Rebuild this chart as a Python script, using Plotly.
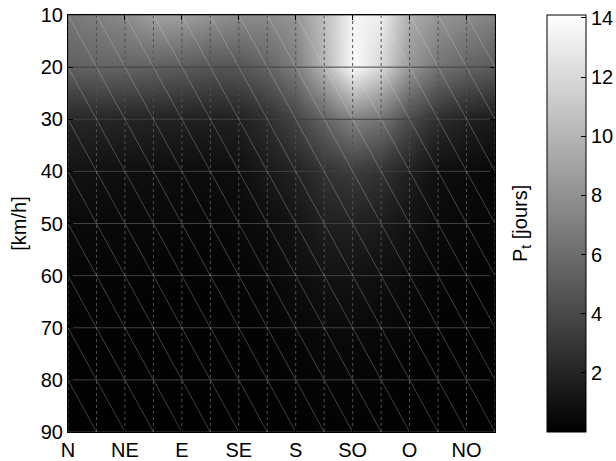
import plotly.graph_objects as go

# Wind direction (degrees) of each data column and the labelled ticks
directions = [0, 22.5, 45, 67.5, 90, 112.5, 135, 157.5, 180, 202.5, 225, 247.5, 270, 292.5, 315, 337.5]
tick_dirs = [0, 45, 90, 135, 180, 225, 270, 315]
tick_labels = ["N", "NE", "E", "SE", "S", "SO", "O", "NO"]

# Wind speed classes (km/h)
speeds = [10, 20, 30, 40, 50, 60, 70, 80, 90]

# P_t [jours] per speed (rows) and direction (columns)
p_10 = [6.6, 7.1, 7.7, 8.8, 8.8, 8.2, 7.7, 7.7, 8.3, 10.5, 13.5, 13.2, 9.5, 8.3, 7.7, 7.2]
p_20 = [5.3, 5.5, 5.5, 5.3, 5.0, 4.7, 4.7, 5.5, 6.9, 10.0, 13.9, 11.9, 8.3, 6.4, 5.5, 5.0]
p_30 = [2.2, 2.1, 2.0, 1.9, 1.8, 1.7, 1.8, 2.5, 3.8, 5.5, 7.2, 6.4, 4.1, 2.5, 1.8, 1.4]
p_40 = [1.0, 0.9, 0.8, 0.8, 0.7, 0.7, 0.8, 1.4, 1.9, 2.8, 3.3, 2.8, 1.7, 0.8, 0.6, 0.4]
p_50 = [0.55, 0.5, 0.45, 0.45, 0.4, 0.4, 0.45, 0.7, 1.1, 1.7, 1.8, 1.5, 1.0, 0.55, 0.4, 0.3]
p_60 = [0.3, 0.3, 0.3, 0.2, 0.2, 0.2, 0.3, 0.4, 0.7, 1.0, 1.0, 0.8, 0.55, 0.3, 0.2, 0.2]
p_70 = [0.15, 0.15, 0.15, 0.15, 0.15, 0.15, 0.15, 0.2, 0.4, 0.55, 0.55, 0.45, 0.3, 0.15, 0.15, 0.1]
p_80 = [0.1, 0.1, 0.1, 0.1, 0.1, 0.1, 0.1, 0.12, 0.2, 0.3, 0.3, 0.25, 0.15, 0.1, 0.1, 0.08]
p_90 = [0.05, 0.05, 0.05, 0.05, 0.05, 0.05, 0.05, 0.06, 0.1, 0.15, 0.15, 0.12, 0.08, 0.05, 0.05, 0.05]
z_rows = [p_10, p_20, p_30, p_40, p_50, p_60, p_70, p_80, p_90]

colorbar_ticks = [2, 4, 6, 8, 10, 12, 14]

FONT = dict(family="Liberation Sans, Arial, sans-serif", size=20, color="black")

fig = go.Figure()

fig.add_trace(go.Heatmap(
    x=directions, y=speeds, z=z_rows,
    zsmooth="best",
    colorscale=[[0, "black"], [1, "white"]],
    zmin=0, zmax=14.1,
    colorbar=dict(
        x=1.1218, xanchor="left", xref="paper",
        y=0.5, yanchor="middle", len=1, lenmode="fraction",
        thickness=39, thicknessmode="pixels",
        xpad=0, ypad=0,
        outlinecolor="black", outlinewidth=1,
        tickvals=colorbar_ticks, ticks="inside", ticklen=5,
        tickcolor="black", tickfont=FONT,
    ),
    hoverinfo="skip",
))

# mesh edges: vertical lines at each direction
vx, vy = [], []
for d in directions:
    vx += [d, d, None]
    vy += [speeds[0], speeds[-1], None]
fig.add_trace(go.Scatter(x=vx, y=vy, mode="lines",
                         line=dict(color="#505050", width=1, dash="dot"),
                         hoverinfo="skip", showlegend=False))

# horizontal lines at each speed
hx, hy = [], []
for s in speeds:
    hx += [directions[0], directions[-1], None]
    hy += [s, s, None]
fig.add_trace(go.Scatter(x=hx, y=hy, mode="lines",
                         line=dict(color="#404040", width=1),
                         hoverinfo="skip", showlegend=False))

# triangulation diagonals
dx, dy = [], []
nx, ny = len(directions), len(speeds)
for i in range(nx - 1):
    for j in range(ny - 1):
        dx += [directions[i], directions[i + 1], None]
        dy += [speeds[j], speeds[j + 1], None]
fig.add_trace(go.Scatter(x=dx, y=dy, mode="lines",
                         line=dict(color="rgba(225,225,225,0.35)", width=0.8),
                         hoverinfo="skip", showlegend=False))

fig.update_layout(
    width=616, height=461,
    margin=dict(l=68, r=121, t=15, b=29, autoexpand=False),
    paper_bgcolor="white", plot_bgcolor="black",
    font=FONT,
    showlegend=False,
    xaxis=dict(
        range=[directions[0], directions[-1]],
        tickvals=tick_dirs, ticktext=tick_labels,
        ticks="inside", ticklen=5, tickcolor="black",
        showgrid=False, zeroline=False, automargin=False,
        showline=True, linecolor="black", linewidth=1, mirror="ticks",
        tickfont=FONT,
    ),
    yaxis=dict(
        range=[speeds[-1], speeds[0]],
        tickvals=speeds,
        ticks="inside", ticklen=5, tickcolor="black",
        showgrid=False, zeroline=False, automargin=False,
        showline=True, linecolor="black", linewidth=1, mirror="ticks",
        tickfont=FONT,
        title=dict(text="[km/h]", font=FONT, standoff=8),
    ),
    annotations=[dict(
        text="P<sub>t</sub> [jours]", textangle=-90,
        x=1.062, y=0.5, xref="paper", yref="paper",
        xanchor="center", yanchor="middle",
        showarrow=False, font=FONT,
    )],
)

fig.write_html(
    "out.html",
    config={"displayModeBar": False, "staticPlot": True},
    post_script="document.body.style.margin='0px';document.body.style.overflow='hidden';",
)
